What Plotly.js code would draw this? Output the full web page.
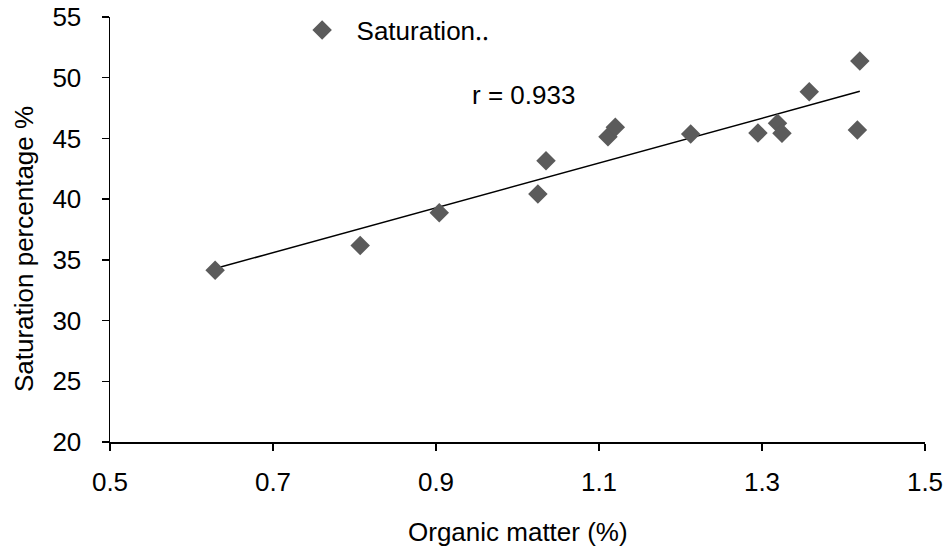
<!DOCTYPE html>
<html>
<head>
<meta charset="utf-8">
<script src="https://cdn.plot.ly/plotly-3.0.1.min.js"></script>
<style>html,body{margin:0;padding:0;background:#fff;}#chart{width:950px;height:547px;}</style>
</head>
<body>
<div id="chart"></div>
<script>
// Organic matter (%)
const organicMatter = [0.629, 0.807, 0.904, 1.025, 1.035, 1.111, 1.120, 1.2125, 1.295, 1.319, 1.3245, 1.358, 1.420, 1.417];
// Saturation percentage %
const saturation = [34.15, 36.18, 38.88, 40.42, 43.17, 45.14, 45.92, 45.37, 45.45, 46.25, 45.43, 48.85, 51.38, 45.70];
const seriesName = "\u00a0\u00a0Saturation‥";
const rText = "r = 0.933";
const xTitle = "Organic matter (%)";
const yTitle = "Saturation percentage %";
const xTicks = [0.5, 0.7, 0.9, 1.1, 1.3, 1.5];
const yTicks = [20, 25, 30, 35, 40, 45, 50, 55];

// least-squares trend line from the data
const n = organicMatter.length;
const mx = organicMatter.reduce((a,b)=>a+b,0)/n;
const my = saturation.reduce((a,b)=>a+b,0)/n;
let sxy = 0, sxx = 0;
for (let i=0;i<n;i++){ sxy += (organicMatter[i]-mx)*(saturation[i]-my); sxx += (organicMatter[i]-mx)**2; }
const slope = sxy/sxx, icpt = my - slope*mx;
const xMin = Math.min(...organicMatter), xMax = Math.max(...organicMatter);
const trendX = [xMin, xMax];
const trendY = trendX.map(x => icpt + slope*x);

const font = {family: "Liberation Sans, Arial, sans-serif", size: 26, color: "#000"};

const data = [
  {x: trendX, y: trendY, mode: "lines", line: {color: "#000", width: 1.5}, showlegend: false, hoverinfo: "skip"},
  {x: organicMatter, y: saturation, mode: "markers", name: seriesName,
   marker: {symbol: "diamond", size: 15, color: "#5b5b5b"}}
];

const layout = {
  width: 950, height: 547,
  margin: {l: 110, r: 25, t: 17, b: 105, autoexpand: false},
  paper_bgcolor: "#fff", plot_bgcolor: "#fff",
  font: font,
  showlegend: true,
  legend: {xref: "container", yref: "container", x: 0.318, y: 0.988, xanchor: "left", yanchor: "top",
           bgcolor: "rgba(0,0,0,0)", font: font},
  xaxis: {
    range: [0.5, 1.5], tickvals: xTicks, ticktext: xTicks.map(v=>v.toFixed(1)),
    showgrid: false, zeroline: false, showline: true, linecolor: "#000", linewidth: 1.5,
    ticks: "outside", ticklen: 7, tickwidth: 1.5, tickcolor: "#000",
    tickfont: font, ticklabelstandoff: 9
  },
  yaxis: {
    range: [20, 55], tickvals: yTicks,
    showgrid: false, zeroline: false, showline: true, linecolor: "#000", linewidth: 1.5,
    ticks: "outside", ticklen: 7, tickwidth: 1.5, tickcolor: "#000",
    tickfont: font, ticklabelstandoff: 15
  },
  annotations: [
    {x: 1.007, y: 48.55, xref: "x", yref: "y", text: rText, showarrow: false, font: font},
    {x: 0.5, y: -0.2118, xref: "paper", yref: "paper", xanchor: "center", yanchor: "middle",
     text: xTitle, showarrow: false, font: font},
    {x: -0.1055, y: 0.454, xref: "paper", yref: "paper", xanchor: "center", yanchor: "middle",
     text: yTitle, textangle: -90, showarrow: false, font: font}
  ]
};

Plotly.newPlot("chart", data, layout, {displayModeBar: false, staticPlot: true});
</script>
</body>
</html>
